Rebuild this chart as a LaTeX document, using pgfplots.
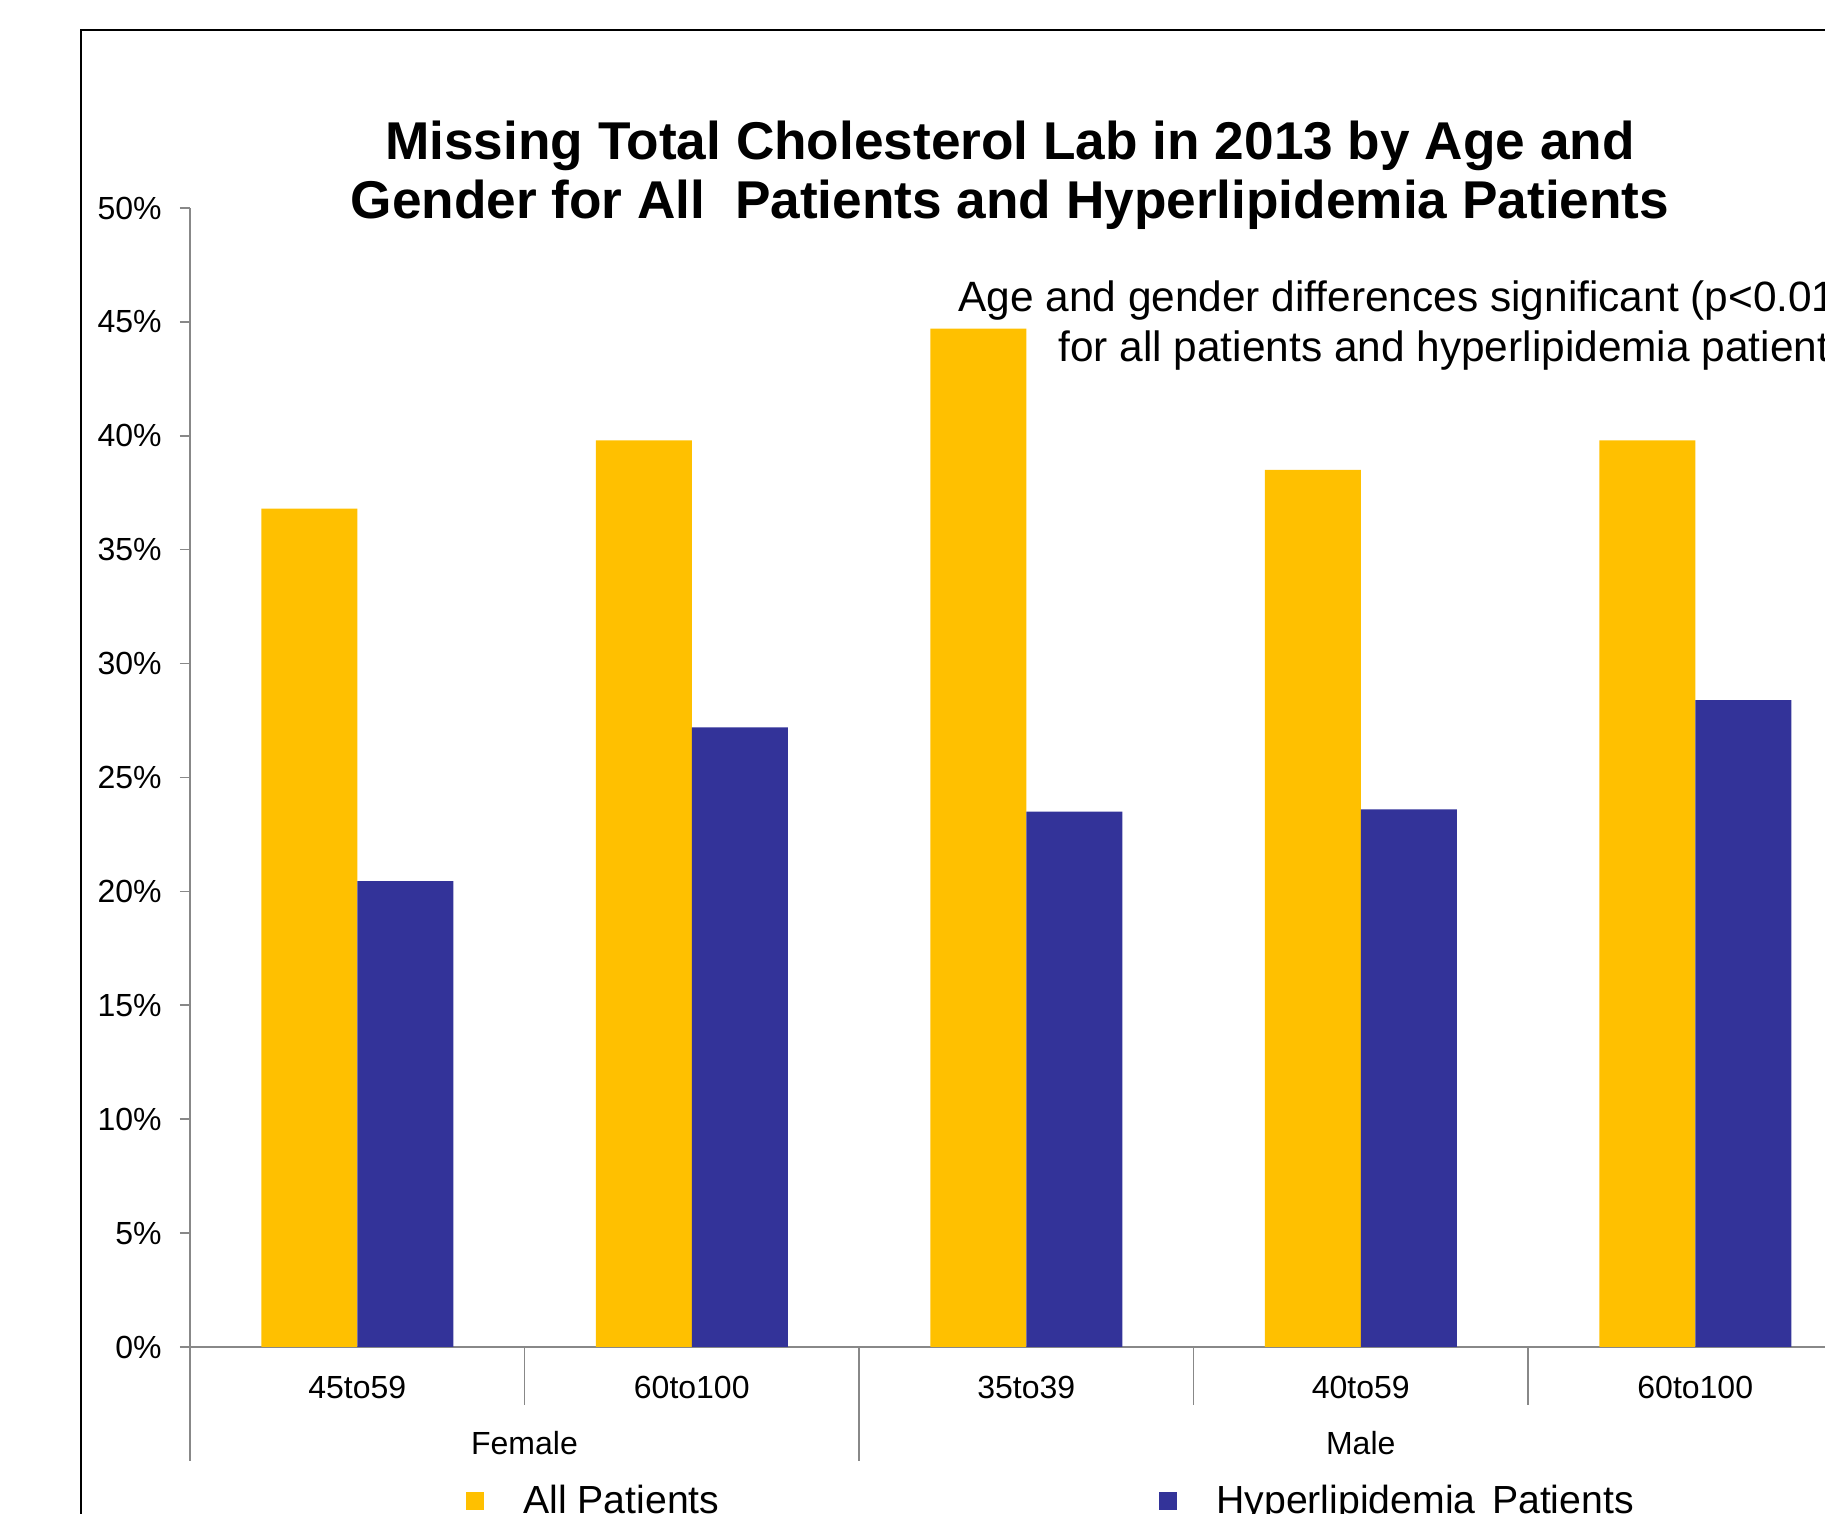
\documentclass[border=0pt]{standalone}
\usepackage{fontspec}
\setmainfont{Liberation Sans}
\usepackage{pgfplots}
\pgfplotsset{compat=1.18}
\definecolor{allc}{HTML}{FFC000}
\definecolor{hypc}{HTML}{333399}
\definecolor{axgray}{HTML}{888888}
\begin{document}
\begin{tikzpicture}
\useasboundingbox (0,0) rectangle (912.5pt,757pt);
\clip (0,0) rectangle (912.5pt,757pt);
% outer frame (cropped at right and bottom)
\draw[line width=1pt, black] (40.5pt,-5pt) -- (40.5pt,742pt) -- (960pt,742pt);
% title
\node[anchor=base, inner sep=0pt, font=\fontsize{26.6}{29}\selectfont\bfseries] at (505pt,677.35pt) {Missing Total Cholesterol Lab in 2013 by Age and};
\node[anchor=base, inner sep=0pt, font=\fontsize{26.6}{29}\selectfont\bfseries] at (505pt,647.5pt) {Gender for All~~Patients and Hyperlipidemia Patients};
% note
\node[anchor=base west, inner sep=0pt, font=\fontsize{21.2}{23}\selectfont] at (479pt,601.15pt) {Age and gender differences significant (p<0.01)};
\node[anchor=base west, inner sep=0pt, font=\fontsize{21.2}{23}\selectfont] at (529pt,576.15pt) {for all patients and hyperlipidemia patients};
\begin{axis}[
  at={(95pt,83.5pt)}, anchor=south west,
  scale only axis, width=836.25pt, height=569.5pt,
  xmin=-0.5, xmax=4.5, ymin=0, ymax=50,
  axis x line*=bottom, axis y line*=left,
  axis line style={draw=axgray, line width=0.8pt, -},
  ybar=0pt, bar width=48pt,
  clip=false,
  xtick={0,1,2,3,4},
  xticklabels={45to59,60to100,35to39,40to59,60to100},
  x tick style={draw=none},
  xticklabel style={anchor=base, yshift=-20.6pt, inner sep=0pt, font=\fontsize{16}{18}\selectfont},
  ytick={0,5,...,50},
  yticklabels={0\%,5\%,10\%,15\%,20\%,25\%,30\%,35\%,40\%,45\%,50\%},
  y tick style={draw=axgray, line width=0.8pt},
  tick align=outside, major tick length=5pt,
  yticklabel style={anchor=east, inner sep=0pt, xshift=-9pt, font=\fontsize{16}{18}\selectfont},
  /pgf/number format/assume math mode=true,
  legend columns=2,
  legend image code/.code={\fill[#1,draw=none] (0pt,-4.5pt) rectangle (9pt,4.5pt);},
  legend style={at={(axis description cs:0.165,-0.1352)}, anchor=west, draw=none, fill=none,
    inner sep=0pt, font=\fontsize{19.6}{22}\selectfont,
    /tikz/every odd column/.append style={column sep=17.5pt},
    /tikz/every even column/.append style={column sep=218pt}},
]
\addplot[fill=allc, draw=none] coordinates {(0,36.8) (1,39.8) (2,44.7) (3,38.5) (4,39.8)};
\addplot[fill=hypc, draw=none] coordinates {(0,20.45) (1,27.2) (2,23.5) (3,23.6) (4,28.4)};
\legend{All Patients, Hyperlipidemia\hspace{0.42em}Patients}
\draw[axgray, line width=0.8pt] (axis cs:-0.5,0) -- ++(0pt,-57pt);
\draw[axgray, line width=0.8pt] (axis cs:1.5,0) -- ++(0pt,-57pt);
\draw[axgray, line width=0.8pt] (axis cs:0.5,0) -- ++(0pt,-29pt);
\draw[axgray, line width=0.8pt] (axis cs:2.5,0) -- ++(0pt,-29pt);
\draw[axgray, line width=0.8pt] (axis cs:3.5,0) -- ++(0pt,-29pt);
\node[anchor=base, inner sep=0pt, font=\fontsize{16}{18}\selectfont] at ([yshift=-54pt]axis cs:0.5,0) {Female};
\node[anchor=base, inner sep=0pt, font=\fontsize{16}{18}\selectfont] at ([yshift=-54pt]axis cs:3,0) {Male};
\end{axis}
\end{tikzpicture}
\end{document}
